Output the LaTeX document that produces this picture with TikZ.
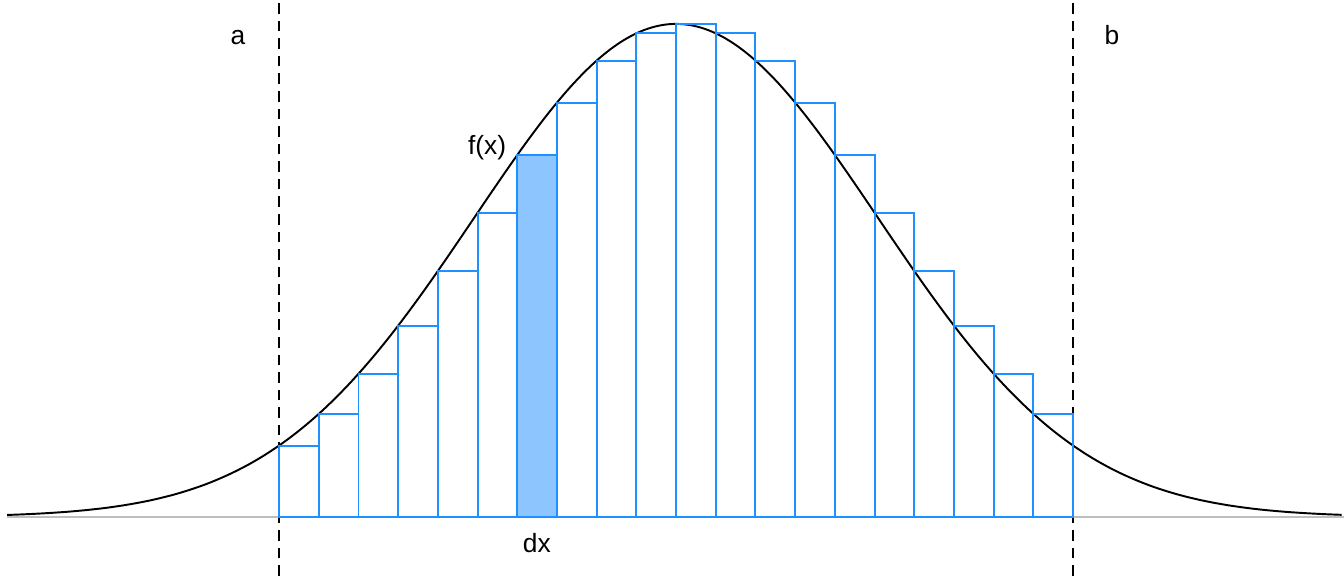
\documentclass[tikz,border=0pt]{standalone}
\usepackage{fontspec}
\setmainfont{Liberation Sans}
\usetikzlibrary{positioning}
\definecolor{barLine}{RGB}{30, 144, 255}
\definecolor{barFill}{RGB}{141, 197, 255}
\definecolor{axisGray}{RGB}{190, 190, 190}

\begin{document}
\begin{tikzpicture}[
    x=3.97cm, y=9.86cm,
    declare function={dens(\t)=exp(-0.9656*(\t)^2/2);},
    curveLine/.style={black, line width=1.1pt},
    barRect/.style={draw=barLine, line width=1.1pt},
    limitLine/.style={black, line width=1.1pt, dash pattern=on 6pt off 4pt},
    plotLabel/.style={font=\fontsize{15}{18}\selectfont, anchor=base, inner sep=0pt}
  ]
    % Frame of the picture
    \useasboundingbox (-3.406,-0.1197) rectangle (3.365,1.0487);

    % Axis line
    \draw[axisGray, line width=1.1pt] (-3.37,0) -- (3.365,0);

    % Density curve
    \draw[curveLine] plot[domain=-3.37:3.355, samples=200, smooth] (\x, {dens(\x)});

    % Integration limits
    \draw[limitLine] (-2,-0.1197) -- (-2,1.0487);
    \draw[limitLine] (2,-0.1197) -- (2,1.0487);

    % Riemann rectangles (left end points), on top
    \foreach \i in {-10,...,9} {
      \pgfmathsetmacro{\xl}{0.2*\i}
      \pgfmathsetmacro{\hgt}{dens(\xl)}
      \ifnum\i=-4
        \filldraw[barRect, fill=barFill] (\xl,0) rectangle ({\xl+0.2},\hgt);
      \else
        \draw[barRect] (\xl,0) rectangle ({\xl+0.2},\hgt);
      \fi
    }

    % Labels
    \node[plotLabel] (lblA) at (-2.207,0.9594) {a};
    \node[plotLabel] (lblB) at (2.196,0.9594) {b};
    \node[plotLabel] (lblF) at (-0.952,0.7343) {f(x)};
    \node[plotLabel] (lblDx) at (-0.7015,-0.0710) {dx};
  \end{tikzpicture}
\end{document}
